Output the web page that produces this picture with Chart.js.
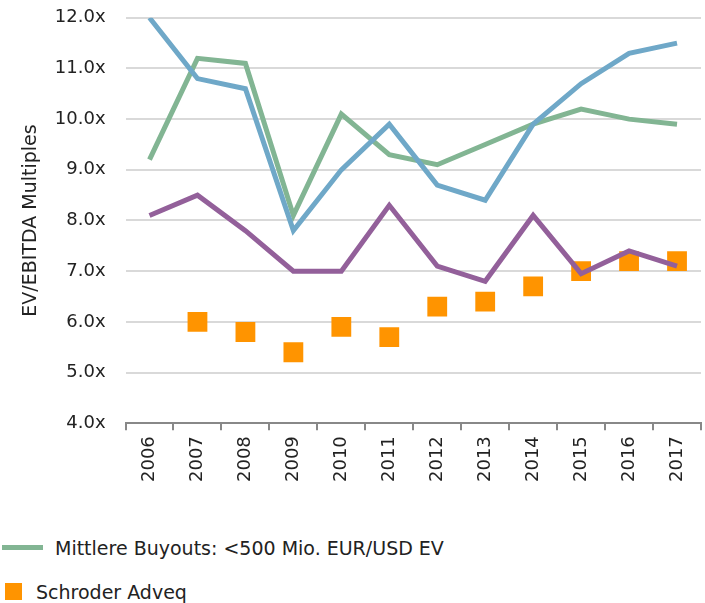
<!DOCTYPE html>
<html>
<head>
<meta charset="utf-8">
<script src="https://cdn.jsdelivr.net/npm/chart.js@4"></script>
<style>
  body { margin: 0; background: #fff; font-family: "DejaVu Sans", Verdana, sans-serif; overflow: hidden; }
  #wrap { position: relative; width: 715px; height: 501px; margin-top: -13px; }
  .legend { position: absolute; left: 0; font-size: 19px; color: #222; }
  .legend span { display: inline-block; vertical-align: middle; }
</style>
</head>
<body>
<div id="wrap"><canvas id="chart"></canvas></div>
<div class="legend" style="top:535px;left:2px;">
  <span style="width:41px;height:5px;background:#82b593;margin-right:12px;"></span><span>Mittlere Buyouts: &lt;500 Mio. EUR/USD EV</span>
</div>
<div class="legend" style="top:579px;left:5px;">
  <span style="width:17px;height:17px;background:#ff9400;margin-right:14px;"></span><span>Schroder Adveq</span>
</div>
<script>
const years = ['2006', '2007', '2008', '2009', '2010', '2011', '2012', '2013', '2014', '2015', '2016', '2017'];
const largeBuyouts = [12.0, 10.8, 10.6, 7.8, 9.0, 9.9, 8.7, 8.4, 9.9, 10.7, 11.3, 11.5];
const midBuyouts = [9.2, 11.2, 11.1, 8.1, 10.1, 9.3, 9.1, 9.5, 9.9, 10.2, 10.0, 9.9];
const smallBuyouts = [8.1, 8.5, 7.8, 7.0, 7.0, 8.3, 7.1, 6.8, 8.1, 6.95, 7.4, 7.1];
const schroderAdveq = [null, 6.0, 5.8, 5.4, 5.9, 5.7, 6.3, 6.4, 6.7, 7.0, 7.2, 7.2];

const font = { family: '"DejaVu Sans", Verdana, sans-serif', size: 18 };

new Chart(document.getElementById('chart'), {
  type: 'line',
  data: {
    labels: years,
    datasets: [
      { label: 'Große Buyouts', data: largeBuyouts, borderColor: '#6fa8c8', borderWidth: 5, pointRadius: 0, tension: 0 },
      { label: 'Mittlere Buyouts: <500 Mio. EUR/USD EV', data: midBuyouts, borderColor: '#82b593', borderWidth: 5, pointRadius: 0, tension: 0 },
      { label: 'Kleine Buyouts', data: smallBuyouts, borderColor: '#93609a', borderWidth: 5, pointRadius: 0, tension: 0 },
      { label: 'Schroder Adveq', data: schroderAdveq, showLine: false, pointStyle: 'rect', pointRadius: 14, pointHoverRadius: 14,
        backgroundColor: '#ff9400', borderColor: '#ff9400', borderWidth: 0 }
    ]
  },
  options: {
    responsive: true,
    maintainAspectRatio: false,
    animation: false,
    layout: { padding: { left: 20, right: 0, top: 2, bottom: 0 } },
    plugins: { legend: { display: false }, tooltip: { enabled: false } },
    scales: {
      x: {
        offset: true,
        grid: { offset: true, drawOnChartArea: false, drawTicks: true, tickLength: 7, color: '#888', lineWidth: 2 },
        border: { color: '#888', width: 2 },
        ticks: { minRotation: 90, maxRotation: 90, color: '#222', font: font, padding: 6 }
      },
      y: {
        min: 4, max: 12,
        grid: { color: '#d9d9d9', lineWidth: 2, drawTicks: false },
        border: { display: false },
        ticks: { stepSize: 1, color: '#222', font: font, padding: 20, callback: v => v.toFixed(1) + 'x' },
        title: { display: true, text: 'EV/EBITDA Multiples', color: '#222', font: { family: font.family, size: 19 }, padding: { top: 0, bottom: -8 } }
      }
    }
  }
});
</script>
</body>
</html>
